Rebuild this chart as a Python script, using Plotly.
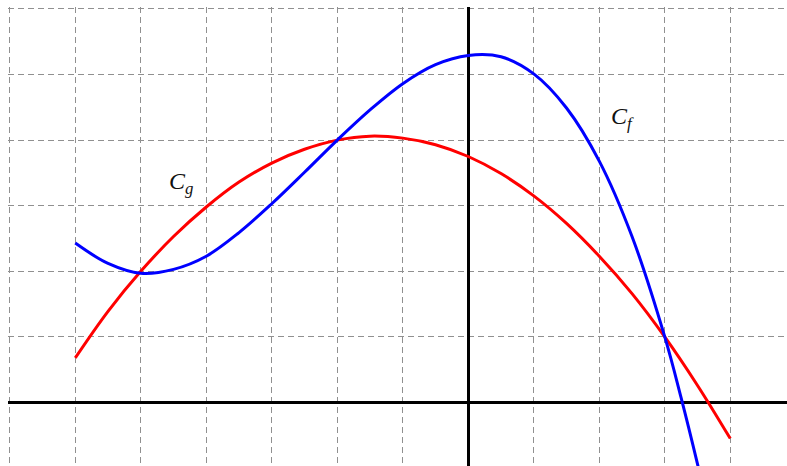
import plotly.graph_objects as go

# Curve points (grid unit = 1)
g_x = [-6, -5.5, -5, -4.5, -4, -3.5, -3, -2.5, -2, -1.5, -1, -0.5, 0, 0.5, 1, 1.5, 2, 2.5, 3, 3.5, 4]
g_y = [0.68, 1.39, 2.0, 2.53, 2.98, 3.36, 3.65, 3.86, 4.0, 4.06, 4.03, 3.93, 3.75, 3.49, 3.15, 2.73, 2.23, 1.66, 1.0, 0.26, -0.55]

f_x = [-6, -5.5, -5, -4.5, -4, -3.5, -3, -2.5, -2, -1.5, -1, -0.5, 0, 0.5, 1, 1.5, 2, 2.5, 3, 3.25, 3.5, 3.6]
f_y = [2.43, 2.12, 1.97, 2.03, 2.23, 2.59, 3.03, 3.51, 4.0, 4.46, 4.86, 5.15, 5.29, 5.27, 5.01, 4.49, 3.68, 2.53, 1.0, 0.07, -0.94, -1.37]

labels = ["<i>C</i><sub><i>g</i></sub>", "<i>C</i><sub><i>f</i></sub>"]
label_pos = [(-4.39, 3.35), (2.36, 4.34)]

fig = go.Figure()
fig.add_trace(go.Scatter(x=g_x, y=g_y, mode="lines", line=dict(color="#ff0000", width=3, shape="spline")))
fig.add_trace(go.Scatter(x=f_x, y=f_y, mode="lines", line=dict(color="#0000ff", width=3, shape="spline")))

for txt, (ax, ay) in zip(labels, label_pos):
    fig.add_annotation(x=ax, y=ay, text=txt, showarrow=False,
                       font=dict(family="Liberation Serif", size=24, color="#111111"))

axis_style = dict(
    dtick=1, tick0=0,
    showticklabels=False, ticks="",
    showgrid=True, gridcolor="#909090", gridwidth=1, griddash="6px,4px",
    zeroline=True, zerolinecolor="black", zerolinewidth=3,
    showline=False, fixedrange=True,
)

fig.update_layout(
    width=787, height=466, autosize=False,
    margin=dict(l=8, r=0, t=7, b=0),
    paper_bgcolor="white", plot_bgcolor="white",
    showlegend=False,
    xaxis=dict(range=[-7.027, 4.866], **axis_style),
    yaxis=dict(range=[-0.968, 6.029], **axis_style),
)

fig.write_html("out.html", config={"displayModeBar": False},
               post_script="document.body.style.margin='0';")
